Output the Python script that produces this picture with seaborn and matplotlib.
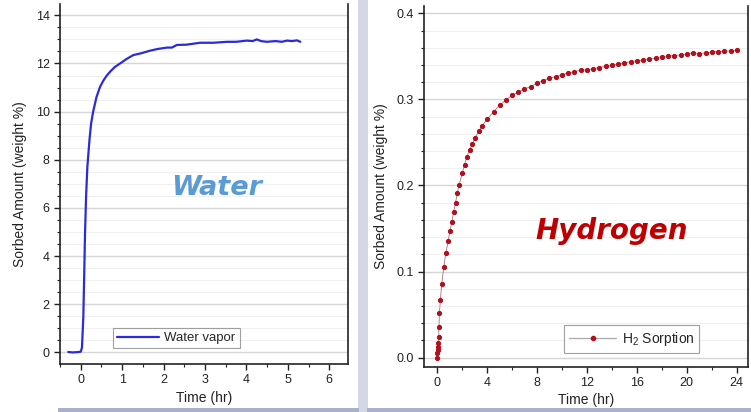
import matplotlib
matplotlib.use("Agg")
import matplotlib.pyplot as plt
import seaborn as sns
import pandas as pd
from matplotlib.patches import Rectangle
from matplotlib.lines import Line2D
from matplotlib.ticker import MultipleLocator

# ---- data ----
water_time = [-0.30, -0.20, -0.10, 0.00, 0.03, 0.063, 0.085, 0.104, 0.13, 0.16, 0.21, 0.25,
              0.30, 0.38, 0.466, 0.55, 0.63, 0.71, 0.82, 0.95, 1.10, 1.27, 1.45, 1.67,
              1.85, 2.08, 2.20, 2.32, 2.55, 2.88, 3.20, 3.53, 3.75, 4.01, 4.15, 4.25,
              4.35, 4.49, 4.70, 4.85, 4.98, 5.10, 5.22, 5.30]
water_value = [0.02, 0.00, 0.01, 0.03, 0.2, 1.48, 3.3, 4.95, 6.5, 7.7, 8.8, 9.5,
               10.0, 10.6, 11.03, 11.3, 11.5, 11.66, 11.85, 12.0, 12.18, 12.35, 12.42, 12.53,
               12.6, 12.66, 12.66, 12.77, 12.78, 12.86, 12.86, 12.9, 12.9, 12.95, 12.93, 13.0,
               12.93, 12.9, 12.93, 12.9, 12.95, 12.93, 12.96, 12.9]

h2_time = [0.0, 0.03, 0.06, 0.09, 0.11, 0.13, 0.16, 0.19, 0.27, 0.37, 0.54, 0.70, 0.89,
           1.03, 1.19, 1.32, 1.48, 1.62, 1.75, 2.02, 2.20, 2.39, 2.60, 2.82, 3.03, 3.33,
           3.62, 4.02, 4.53, 5.04, 5.52, 6.03, 6.51, 6.99, 7.5, 8.01, 8.5, 8.98, 9.5,
           10.0, 10.5, 11.0, 11.5, 12.0, 12.5, 13.0, 13.5, 14.0, 14.5, 15.0, 15.5, 16.0,
           16.5, 17.0, 17.5, 18.0, 18.5, 19.0, 19.5, 20.0, 20.5, 21.0, 21.5, 22.0, 22.5,
           23.0, 23.5, 24.0]
h2_value = [0.0, 0.005, 0.009, 0.0128, 0.0167, 0.0244, 0.036, 0.0516, 0.067, 0.0856, 0.105,
            0.121, 0.135, 0.147, 0.158, 0.169, 0.180, 0.191, 0.200, 0.214, 0.224, 0.2335,
            0.241, 0.248, 0.255, 0.263, 0.2695, 0.277, 0.2858, 0.2936, 0.2994, 0.305,
            0.3087, 0.3122, 0.3148, 0.3188, 0.3218, 0.3246, 0.3264, 0.3288, 0.3307, 0.3322,
            0.3339, 0.3342, 0.3357, 0.337, 0.3385, 0.340, 0.3412, 0.342, 0.3439, 0.345,
            0.3455, 0.3466, 0.3482, 0.3497, 0.3505, 0.3509, 0.3517, 0.3525, 0.3543, 0.3532,
            0.354, 0.3548, 0.3555, 0.3559, 0.3563, 0.3575]

water_df = pd.DataFrame({"Time (hr)": water_time, "Sorbed": water_value})
h2_df = pd.DataFrame({"Time (hr)": h2_time, "Sorbed": h2_value})

sns.set_style("white")
plt.rcParams["font.family"] = ["Liberation Sans", "DejaVu Sans"]
plt.rcParams["mathtext.fontset"] = "custom"
plt.rcParams["mathtext.rm"] = "Liberation Sans"
plt.rcParams["mathtext.it"] = "Liberation Sans:italic"

W, H = 751, 412
fig = plt.figure(figsize=(W / 100, H / 100), dpi=100)
fig.patch.set_facecolor("white")

# frame decorations
fig.patches.append(Rectangle((358 / W, 0), 10 / W, 1, transform=fig.transFigure,
                             facecolor="#d3d7e6", edgecolor="none", zorder=0))
fig.patches.append(Rectangle((58 / W, 0), 301 / W, 4 / H, transform=fig.transFigure,
                             facecolor="#a9b0cc", edgecolor="none", zorder=0))
fig.patches.append(Rectangle((367 / W, 0), (W - 367) / W, 4 / H, transform=fig.transFigure,
                             facecolor="#aab1cd", edgecolor="none", zorder=0))


def style_axes(ax):
    ax.set_facecolor("white")
    for s in ["left", "bottom", "right"]:
        ax.spines[s].set_visible(True)
        ax.spines[s].set_color("#222222")
        ax.spines[s].set_linewidth(1.2)
    ax.spines["top"].set_visible(False)
    ax.tick_params(axis="both", which="both", direction="out", colors="#222222",
                   labelcolor="#222222", labelsize=9, bottom=True, left=True,
                   right=False, top=False)
    ax.tick_params(which="major", length=4, width=1)
    ax.tick_params(which="minor", length=2.5, width=0.8)
    ax.grid(True, which="major", axis="y", color="#d6d6d6", lw=1.0)
    ax.grid(True, which="minor", axis="y", color="#f0f0f0", lw=0.8)
    ax.grid(False, axis="x", which="both")
    ax.set_axisbelow(True)


# ---- Water panel ----
ax1 = fig.add_axes([60 / W, 48 / H, 288 / W, 360 / H])
sns.lineplot(data=water_df, x="Time (hr)", y="Sorbed", ax=ax1, color="#2b2bdc",
             lw=1.6, label="Water vapor", sort=False)
ax1.set_xlim(-0.5, 6.45)
ax1.set_ylim(-0.48, 14.47)
ax1.xaxis.set_major_locator(MultipleLocator(1))
ax1.xaxis.set_minor_locator(MultipleLocator(0.5))
ax1.yaxis.set_major_locator(MultipleLocator(2))
ax1.yaxis.set_minor_locator(MultipleLocator(0.5))
style_axes(ax1)
ax1.set_xlabel("Time (hr)", fontsize=10, color="#222222", labelpad=3)
ax1.set_ylabel("Sorbed Amount (weight %)", fontsize=10, color="#222222", labelpad=6)
leg1 = ax1.legend(loc="lower left", bbox_to_anchor=(0.184, 0.044), borderaxespad=0,
                  fontsize=9.5, frameon=True, fancybox=False, handlelength=3.2,
                  borderpad=0.3, handletextpad=0.4)
leg1.get_frame().set_edgecolor("#888888")
leg1.get_frame().set_linewidth(0.8)
ax1.text(0.545, 0.49, "Water", transform=ax1.transAxes, fontsize=19.5,
         fontweight="bold", fontstyle="italic", color="#5b9bd5",
         family="DejaVu Sans", ha="center", va="center")

# ---- Hydrogen panel ----
ax2 = fig.add_axes([424.3 / W, 45.3 / H, 323.7 / W, 360.7 / H])
sns.lineplot(data=h2_df, x="Time (hr)", y="Sorbed", ax=ax2, color="#b3707a",
             lw=0.6, marker="o", markersize=3.0, markerfacecolor="#b3101e",
             markeredgecolor="#b3101e", legend=False)
ax2.set_xlim(-1.02, 24.9)
ax2.set_ylim(-0.0105, 0.4085)
ax2.xaxis.set_major_locator(MultipleLocator(4))
ax2.xaxis.set_minor_locator(MultipleLocator(2))
ax2.yaxis.set_major_locator(MultipleLocator(0.1))
ax2.yaxis.set_minor_locator(MultipleLocator(0.02))
style_axes(ax2)
ax2.set_xlabel("Time (hr)", fontsize=10, color="#222222", labelpad=3)
ax2.set_ylabel("Sorbed Amount (weight %)", fontsize=10, color="#222222", labelpad=6)
h2_handle = Line2D([], [], color="#aaaaaa", lw=0.9, marker="o", markersize=3.0,
                   markerfacecolor="#b3101e", markeredgecolor="#b3101e")
leg2 = ax2.legend([h2_handle], ["H$_2$ Sorption"], loc="lower left",
                  bbox_to_anchor=(0.432, 0.038), borderaxespad=0, fontsize=10,
                  frameon=True, fancybox=False, handlelength=3.4, borderpad=0.35,
                  handletextpad=0.4)
leg2.get_frame().set_edgecolor("#888888")
leg2.get_frame().set_linewidth(0.8)
ax2.text(0.58, 0.376, "Hydrogen", transform=ax2.transAxes, fontsize=20,
         fontweight="bold", fontstyle="italic", color="#c00000",
         family="DejaVu Sans", ha="center", va="center")

fig.savefig("out.png", dpi=100)
